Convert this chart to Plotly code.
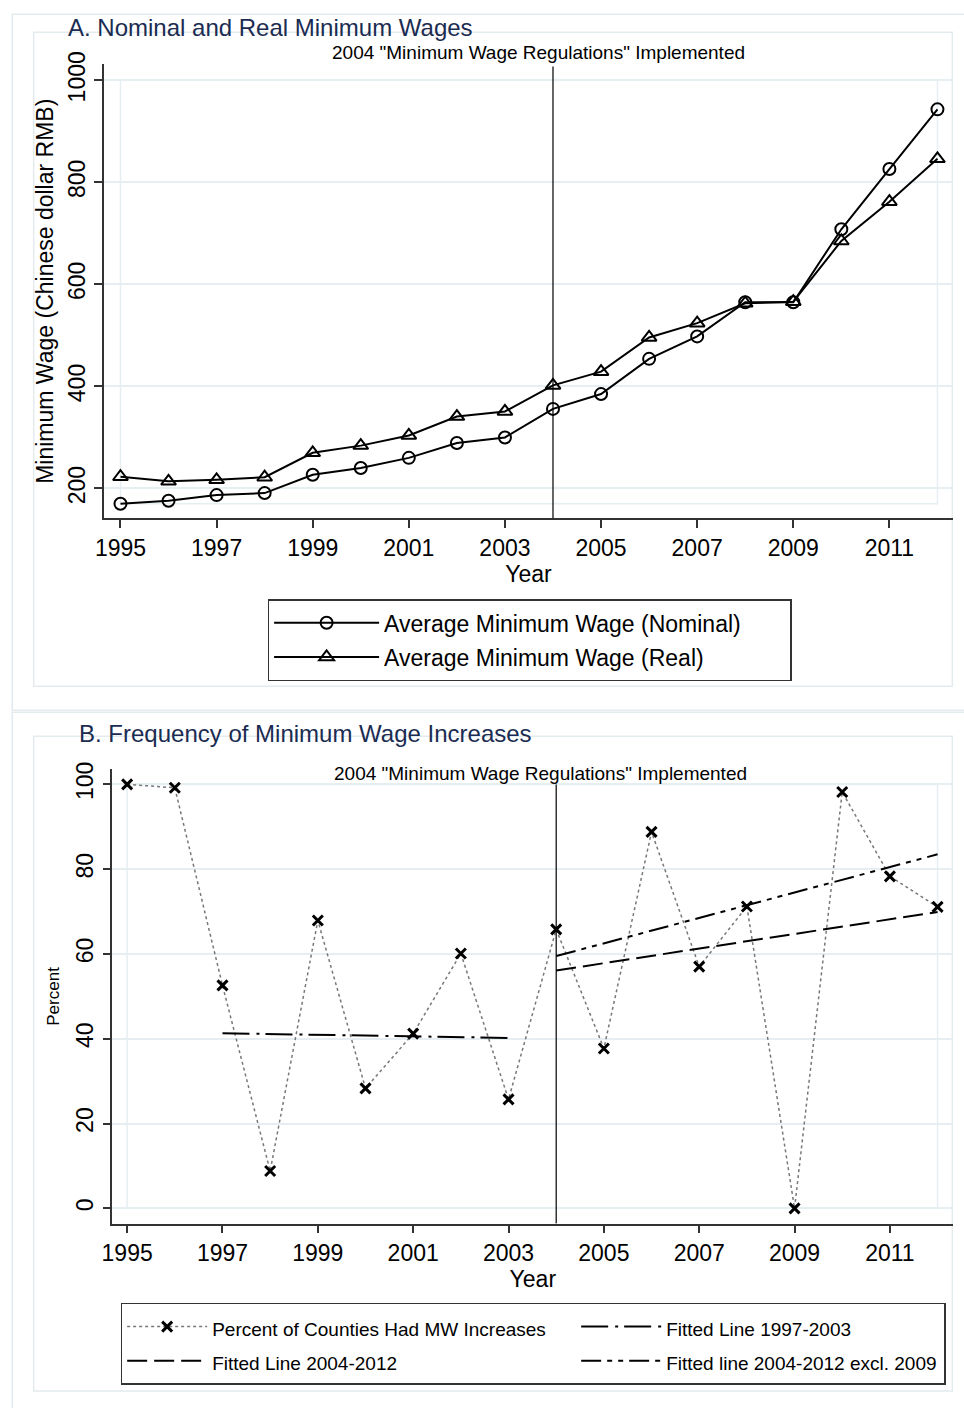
import plotly.graph_objects as go

# ---------------- data ----------------
years = list(range(1995, 2013))
nominal_mw = [170, 176, 187, 191, 227, 240, 260, 289, 300, 356, 385, 454, 498, 565, 565, 708, 826, 943]
real_mw = [223, 214, 217, 222, 270, 284, 304, 341, 351, 402, 429, 496, 524, 563, 566, 685, 762, 846]

pct_increase = [100, 99.2, 52.6, 8.8, 67.9, 28.3, 41.2, 60.1, 25.7, 65.8,
                37.7, 88.8, 57.0, 71.2, 0.0, 98.2, 78.3, 71.1]

fit_9703_x = [1997, 2003]
fit_9703_y = [41.3, 40.2]
fit_0412_x = [2004, 2012]
fit_0412_y = [56.1, 69.9]
fit_0412ex_x = [2004, 2012]
fit_0412ex_y = [59.5, 83.5]

xtick_years = [1995, 1997, 1999, 2001, 2003, 2005, 2007, 2009, 2011]
ytick_a = [200, 400, 600, 800, 1000]
ytick_b = [0, 20, 40, 60, 80, 100]
reg_year = 2004
reg_text = '2004 "Minimum Wage Regulations" Implemented'

W, H = 964, 1408
FONT = "Arial, Liberation Sans, sans-serif"
GRID = "#e6eef1"
AX = "#333333"
TITLE_C = "#1b2c52"

# layout helpers: target pixel position in the final picture -> paper fraction
OX, SX = 10.3, 0.989
OY, SY = 11.7, 0.991


def px_x(p):
    return ((p - OX) / SX) / W


def px_y(p):
    return 1 - ((p - OY) / SY) / H


def small(name, size):
    return '<span style="font-size:%spx">%s</span>' % (size, name)


fig = go.Figure()

# Panel A traces
fig.add_trace(go.Scatter(
    x=years, y=nominal_mw, mode="lines+markers", name=small("Average Minimum Wage (Nominal)", 23),
    line=dict(color="black", width=2),
    marker=dict(symbol="circle-open", size=12, color="black", line=dict(width=2)),
    xaxis="x", yaxis="y", legend="legend", legendwidth=401))
fig.add_trace(go.Scatter(
    x=years, y=real_mw, mode="lines+markers", name=small("Average Minimum Wage (Real)", 23),
    line=dict(color="black", width=2),
    marker=dict(symbol="triangle-up-open", size=13, color="black", line=dict(width=2)),
    xaxis="x", yaxis="y", legend="legend", legendwidth=401))

# Panel B traces
fig.add_trace(go.Scatter(
    x=years, y=pct_increase, mode="lines+markers", name=small("Percent of Counties Had MW Increases", 19),
    line=dict(color="#777777", width=1.5, dash="dot"),
    marker=dict(symbol="x-thin", size=10, color="black", line=dict(width=3, color="black")),
    xaxis="x2", yaxis="y2", legend="legend2", legendwidth=359))
fig.add_trace(go.Scatter(
    x=fit_9703_x, y=fit_9703_y, mode="lines", name=small("Fitted Line 1997-2003", 19),
    line=dict(color="black", width=2, dash="27px,7px,3px,6px"),
    xaxis="x2", yaxis="y2", legend="legend2", legendwidth=273))
fig.add_trace(go.Scatter(
    x=fit_0412_x, y=fit_0412_y, mode="lines", name=small("Fitted Line 2004-2012", 19),
    line=dict(color="black", width=2, dash="20px,7px"),
    xaxis="x2", yaxis="y2", legend="legend2", legendwidth=359))
fig.add_trace(go.Scatter(
    x=fit_0412ex_x, y=fit_0412ex_y, mode="lines", name=small("Fitted line 2004-2012 excl. 2009", 19),
    line=dict(color="black", width=2, dash="20px,6px,5px,6px,5px,6px"),
    xaxis="x2", yaxis="y2", legend="legend2", legendwidth=273))

shapes = []
# outer/inner graph-region boxes
for (x0, y0, x1, y1) in [(11.5, 13, 985, 709), (33, 31, 952, 685), (11.5, 711, 985, 1430), (33, 735, 952, 1390)]:
    shapes.append(dict(type="rect", xref="paper", yref="paper",
                       x0=px_x(x0), x1=px_x(x1), y0=px_y(y1), y1=px_y(y0),
                       line=dict(color="#e3ebee", width=1.5), fillcolor="rgba(0,0,0,0)", layer="below"))
# plot-region outlines
shapes.append(dict(type="rect", xref="x", yref="y", x0=years[0], x1=years[-1], y0=170, y1=1000,
                   line=dict(color=GRID, width=1.5), layer="below"))
shapes.append(dict(type="rect", xref="x2", yref="y2", x0=years[0], x1=years[-1], y0=0, y1=100,
                   line=dict(color=GRID, width=1.5), layer="below"))
# regulation lines
shapes.append(dict(type="line", xref="x", yref="y domain", x0=reg_year, x1=reg_year, y0=0, y1=0.995,
                   line=dict(color="black", width=1.2)))
shapes.append(dict(type="line", xref="x2", yref="y2", x0=reg_year, x1=reg_year, y0=-3.6, y1=100,
                   line=dict(color="black", width=1.2)))

annotations = [
    dict(text="A. Nominal and Real Minimum Wages", x=px_x(65), y=px_y(26), xref="paper", yref="paper",
         xanchor="left", yanchor="middle", showarrow=False, font=dict(size=24, color=TITLE_C, family=FONT)),
    dict(text="B. Frequency of Minimum Wage Increases", x=px_x(76), y=px_y(732), xref="paper", yref="paper",
         xanchor="left", yanchor="middle", showarrow=False, font=dict(size=24, color=TITLE_C, family=FONT)),
    dict(text=reg_text, x=px_x(538), y=px_y(51), xref="paper", yref="paper",
         xanchor="center", yanchor="middle", showarrow=False, font=dict(size=19, color="black", family=FONT)),
    dict(text=reg_text, x=px_x(540), y=px_y(772), xref="paper", yref="paper",
         xanchor="center", yanchor="middle", showarrow=False, font=dict(size=19, color="black", family=FONT)),
]

axis_common = dict(showline=True, linecolor=AX, linewidth=1.5, ticks="outside", ticklen=8,
                   tickwidth=1.5, tickcolor=AX, zeroline=False,
                   tickfont=dict(size=23, color="black", family=FONT))

fig.update_layout(
    width=W, height=H, margin=dict(l=0, r=0, t=0, b=0),
    paper_bgcolor="white", plot_bgcolor="white",
    font=dict(family=FONT, color="black"),
    shapes=shapes, annotations=annotations,
    xaxis=dict(domain=[px_x(103), px_x(953)], range=[1994.65, 2012.33], anchor="y",
               tickvals=xtick_years, showgrid=False,
               title=dict(text="Year", font=dict(size=23, family=FONT), standoff=2), **axis_common),
    yaxis=dict(domain=[px_y(517), px_y(63)], range=[141.8, 1031.3], anchor="x",
               tickvals=ytick_a, tickangle=-90, showgrid=True, gridcolor=GRID, gridwidth=1.5,
               title=dict(text="Minimum Wage (Chinese dollar RMB)", font=dict(size=23, family=FONT), standoff=4),
               **axis_common),
    xaxis2=dict(domain=[px_x(111.7), px_x(953)], range=[1994.69, 2012.33], anchor="y2",
                tickvals=xtick_years, showgrid=False,
                title=dict(text="Year", font=dict(size=23, family=FONT), standoff=2), **axis_common),
    yaxis2=dict(domain=[px_y(1222.7), px_y(768)], range=[-3.63, 103.6], anchor="x2",
                tickvals=ytick_b, tickangle=-90, showgrid=True, gridcolor=GRID, gridwidth=1.5,
                title=dict(text="Percent", font=dict(size=17, family=FONT), standoff=8),
                **axis_common),
    legend=dict(x=px_x(267), y=px_y(598), xanchor="left", yanchor="top", orientation="h",
                bordercolor=AX, borderwidth=1.5, bgcolor="white", itemwidth=105,
                font=dict(size=24, family=FONT, color="black")),
    legend2=dict(x=px_x(120), y=px_y(1302), xanchor="left", yanchor="top", orientation="h",
                 bordercolor=AX, borderwidth=1.5, bgcolor="white", itemwidth=80,
                 font=dict(size=24, family=FONT, color="black")),
    showlegend=True,
)

fig.write_html(
    "out.html",
    config={"displayModeBar": False},
    post_script=(
        "document.documentElement.style.margin='0';document.body.style.margin='0';"
        "document.body.style.padding='0';document.documentElement.style.overflow='hidden';"
        "var d=document.getElementById('{plot_id}');d.style.position='fixed';"
        "d.style.left='0px';d.style.top='0px';"
    ),
)
